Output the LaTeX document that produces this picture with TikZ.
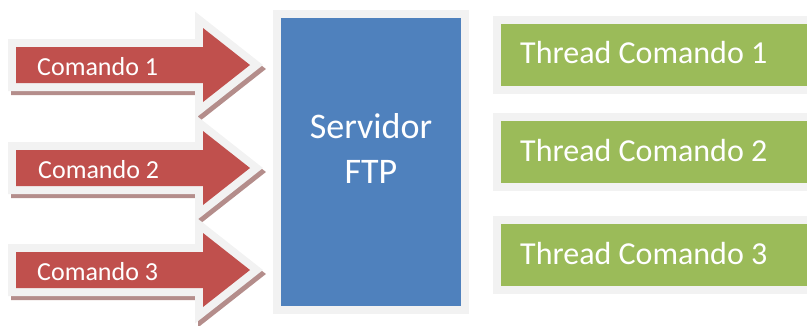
\documentclass[tikz,border=0pt]{standalone}
\usepackage{fontspec}
\setmainfont{Carlito}
\definecolor{redf}{HTML}{C0504D}
\definecolor{bluef}{HTML}{4F81BD}
\definecolor{greenf}{HTML}{9BBB59}
\definecolor{bordc}{HTML}{F2F2F2}
\definecolor{redsh}{HTML}{B48D8B}
\definecolor{bluesh}{HTML}{8E9EB4}
\definecolor{greensh}{HTML}{A4AE8E}
\tikzset{
  brd/.style={draw=bordc, line width=16pt, line join=miter},
  shd/.style={draw=#1, fill=#1, line width=16pt, line join=miter, xshift=3pt, yshift=-4pt},
  gbox/.style={rectangle, inner sep=0pt, minimum width=340pt, minimum height=62pt,
    anchor=north west, fill=greenf,
    preaction={shd=greensh}, preaction={brd}},
  sbox/.style={rectangle, inner sep=0pt, minimum width=180pt, minimum height=288pt,
    anchor=north west, fill=bluef,
    preaction={shd=bluesh}, preaction={brd}},
  wtext/.style={text=white, inner sep=0pt, anchor=base west},
}
\newcommand\cmdarrowpath[1]{(16,#1-18) -- (203,#1-18) -- (203,#1-37) -- (250,#1) -- (203,#1+37) -- (203,#1+18) -- (16,#1+18) -- cycle}
\newcommand\cmdarrow[1]{%
  \path[shd=redsh] \cmdarrowpath{#1};
  \path[brd] \cmdarrowpath{#1};
  \fill[redf] \cmdarrowpath{#1};
}
\begin{document}
\begin{tikzpicture}[x=1pt,y=-1pt]
  \useasboundingbox (0,0) rectangle (807,325);
  \clip (0,0) rectangle (807,325);
  % command arrows
  \cmdarrow{65}
  \cmdarrow{168}
  \cmdarrow{270}
  \node[wtext, font=\fontsize{26}{30}\selectfont] (c1) at (37,75) {Comando 1};
  \node[wtext, font=\fontsize{26}{30}\selectfont] (c2) at (38,178) {Comando 2};
  \node[wtext, font=\fontsize{26}{30}\selectfont] (c3) at (37,280) {Comando 3};
  % server
  \node[sbox] (srvbox) at (281,18) {};
  \node[text=white, inner sep=0pt, align=center, font=\fontsize{36}{45}\selectfont] (srv) at (371,148) {Servidor\\FTP};
  % thread boxes
  \node[gbox] (g1) at (501,24) {};
  \node[gbox] (g2) at (501,121) {};
  \node[gbox] (g3) at (501,224) {};
  \node[wtext, font=\fontsize{32}{38}\selectfont] (t1) at (520,63) {Thread Comando 1};
  \node[wtext, font=\fontsize{32}{38}\selectfont] (t2) at (520,161) {Thread Comando 2};
  \node[wtext, font=\fontsize{32}{38}\selectfont] (t3) at (520,264) {Thread Comando 3};
\end{tikzpicture}
\end{document}
